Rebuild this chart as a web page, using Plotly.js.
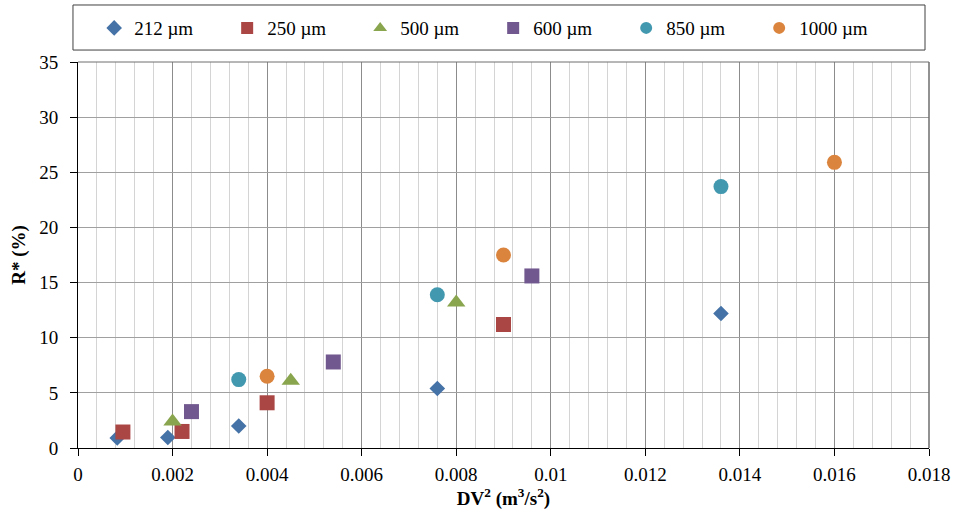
<!DOCTYPE html>
<html>
<head>
<meta charset="utf-8">
<script src="https://cdn.plot.ly/plotly-3.0.1.min.js"></script>
<style>html,body{margin:0;padding:0;background:#fff;}#chart{width:957px;height:522px;}</style>
</head>
<body>
<div id="chart"></div>
<script>
// Data
var seriesNames = ['212 \u00b5m', '250 \u00b5m', '500 \u00b5m', '600 \u00b5m', '850 \u00b5m', '1000 \u00b5m'];
var x212 = [0.00083, 0.0019, 0.0034, 0.0076, 0.0136];
var y212 = [0.9, 0.95, 2.0, 5.4, 12.2];
var x250 = [0.00095, 0.0022, 0.004, 0.009];
var y250 = [1.45, 1.5, 4.1, 11.2];
var x500 = [0.002, 0.0045, 0.008];
var y500 = [2.4, 6.1, 13.2];
var x600 = [0.0024, 0.0054, 0.0096];
var y600 = [3.3, 7.8, 15.6];
var x850 = [0.0034, 0.0076, 0.0136];
var y850 = [6.2, 13.9, 23.7];
var x1000 = [0.004, 0.009, 0.016];
var y1000 = [6.5, 17.5, 25.9];

var xs = [x212, x250, x500, x600, x850, x1000];
var ys = [y212, y250, y500, y600, y850, y1000];
var colors = ['#4572A7', '#AA4643', '#89A54E', '#71588F', '#4198AF', '#DB843D'];
var symbols = ['diamond', 'square', 'triangle-up', 'square', 'circle', 'circle'];
var sizes = [12, 15, 16, 15, 15, 15];

var traces = seriesNames.map(function (n, i) {
  return {
    type: 'scatter', mode: 'markers', name: n,
    x: xs[i], y: ys[i],
    marker: {color: colors[i], symbol: symbols[i], size: sizes[i], line: {width: 0}},
    cliponaxis: false
  };
});

var font = {family: '"Liberation Serif", "Times New Roman", Times, serif', size: 19, color: '#000'};

var layout = {
  width: 957, height: 522,
  margin: {l: 78, r: 28, t: 62, b: 74, autoexpand: false},
  paper_bgcolor: '#fff', plot_bgcolor: '#fff',
  font: font,
  showlegend: true,
  legend: {
    orientation: 'h', x: 0.019, xanchor: 'left', y: 1.088, yanchor: 'middle',
    font: font, entrywidth: 88, entrywidthmode: 'pixels',
    itemsizing: 'constant', bgcolor: 'rgba(0,0,0,0)', borderwidth: 0
  },
  xaxis: {
    range: [0, 0.018], dtick: 0.002, tick0: 0,
    showgrid: true, gridcolor: '#8c8c8c', gridwidth: 1,
    minor: {dtick: 0.0004, tick0: 0, showgrid: true, gridcolor: '#d4d4d4', gridwidth: 1, ticks: ''},
    showline: true, linecolor: '#000', linewidth: 1,
    ticks: 'outside', ticklen: 7, tickcolor: '#000', ticklabelstandoff: 2,
    zeroline: false, tickfont: font,
    title: {text: '<b>DV<sup>2</sup> (m<sup>3</sup>/s<sup>2</sup>)</b>', font: font, standoff: 6}
  },
  yaxis: {
    range: [0, 35], dtick: 5, tick0: 0,
    showgrid: true, gridcolor: '#a0a0a0', gridwidth: 1,
    showline: true, linecolor: '#000', linewidth: 1,
    ticks: 'outside', ticklen: 7, tickcolor: '#000', ticklabelstandoff: 8,
    zeroline: false, tickfont: font,
    title: {text: '<b>R* (%)</b>', font: font, standoff: 8}
  },
  shapes: [
    {type: 'rect', xref: 'paper', yref: 'paper', x0: -0.0059, x1: 0.9953, y0: 1.031, y1: 1.1477,
     line: {color: '#404040', width: 1}, fillcolor: 'rgba(0,0,0,0)'},
    {type: 'line', xref: 'paper', yref: 'paper', x0: 0, x1: 1, y0: 1, y1: 1, line: {color: '#6e6e6e', width: 1}},
    {type: 'line', xref: 'paper', yref: 'paper', x0: 1, x1: 1, y0: 0, y1: 1, line: {color: '#6e6e6e', width: 1.5}}
  ]
};

Plotly.newPlot('chart', traces, layout, {displayModeBar: false, staticPlot: true});
</script>
</body>
</html>
